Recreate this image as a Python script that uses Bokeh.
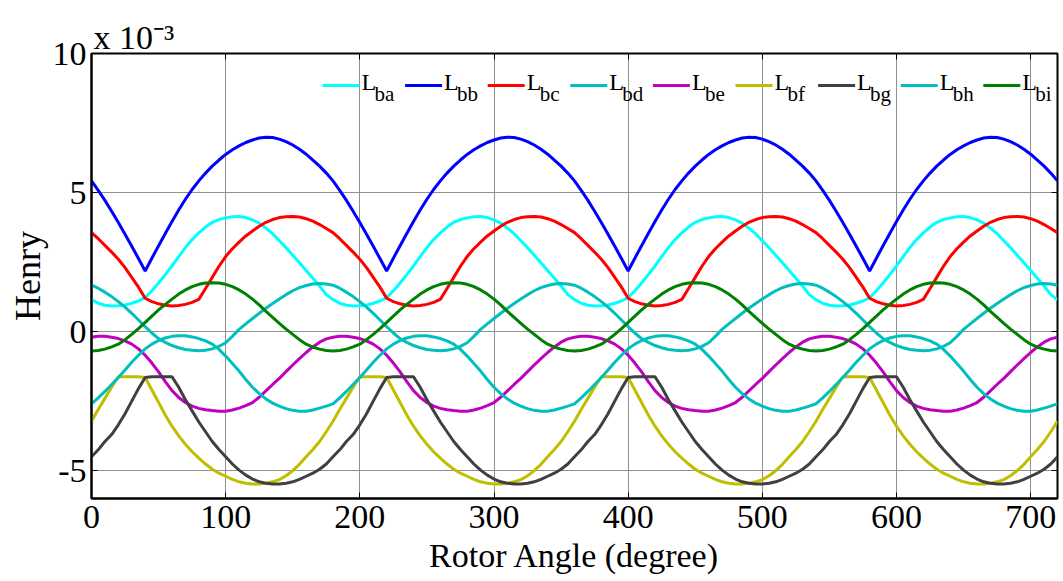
from bokeh.plotting import figure
from bokeh.models import Range1d, FixedTicker, LinearAxis, Label, Arrow, Title
from bokeh.embed import file_html
from bokeh.resources import INLINE

# ---------------- data (values in 1e-3 H) ----------------
# rotor angle in degrees, 0..720 every 5 degrees
angle = list(range(0, 721, 5))

# one 180-degree cycle of each curve at 0,5,...,175 degrees (the chart repeats it 4 times)
L_ba_cycle = [1.15, 1.02, 0.95, 0.92, 0.93, 0.96, 1.02, 1.10, 1.22, 1.47, 1.75, 2.05,
              2.36, 2.70, 3.02, 3.31, 3.55, 3.76, 3.93, 4.03, 4.09, 4.13, 4.14, 4.10,
              4.02, 3.90, 3.72, 3.52, 3.27, 3.02, 2.75, 2.48, 2.20, 1.92, 1.64, 1.33]
L_bb_cycle = [5.42, 5.08, 4.72, 4.33, 3.92, 3.50, 3.07, 2.63, 2.18, 2.64, 3.09, 3.53,
              3.96, 4.37, 4.76, 5.11, 5.42, 5.70, 5.95, 6.17, 6.37, 6.54, 6.68, 6.80,
              6.89, 6.96, 6.99, 6.98, 6.92, 6.83, 6.71, 6.56, 6.38, 6.17, 5.95, 5.70]
L_bc_cycle = [3.56, 3.34, 3.10, 2.86, 2.60, 2.30, 1.95, 1.60, 1.20, 1.08, 1.00, 0.95,
              0.92, 0.94, 0.98, 1.05, 1.16, 1.55, 1.95, 2.35, 2.70, 2.98, 3.22, 3.44,
              3.62, 3.79, 3.93, 4.03, 4.10, 4.13, 4.14, 4.12, 4.06, 3.97, 3.85, 3.71]
L_bd_cycle = [1.67, 1.56, 1.42, 1.26, 1.08, 0.88, 0.66, 0.42, 0.18, -0.05, -0.25, -0.39,
              -0.50, -0.58, -0.64, -0.67, -0.69, -0.67, -0.62, -0.53, -0.40, -0.17, 0.08, 0.28,
              0.47, 0.66, 0.84, 1.01, 1.17, 1.33, 1.47, 1.58, 1.66, 1.71, 1.73, 1.71]
L_be_cycle = [-0.20, -0.17, -0.17, -0.20, -0.25, -0.33, -0.45, -0.62, -0.85, -1.13, -1.45, -1.80,
              -2.12, -2.37, -2.55, -2.68, -2.76, -2.81, -2.84, -2.86, -2.86, -2.82, -2.75, -2.66,
              -2.55, -2.36, -2.13, -1.90, -1.68, -1.44, -1.20, -0.97, -0.75, -0.55, -0.38, -0.26]
L_bf_cycle = [-3.22, -2.80, -2.40, -2.00, -1.62, -1.62, -1.62, -1.62, -1.65, -2.10, -2.55, -3.00,
              -3.40, -3.75, -4.05, -4.32, -4.55, -4.76, -4.95, -5.09, -5.20, -5.31, -5.40, -5.45,
              -5.48, -5.48, -5.45, -5.40, -5.32, -5.18, -5.00, -4.77, -4.50, -4.24, -3.95, -3.60]
L_bg_cycle = [-4.50, -4.25, -3.95, -3.70, -3.35, -2.95, -2.50, -2.05, -1.65, -1.62, -1.62, -1.62,
              -1.62, -2.00, -2.45, -2.85, -3.25, -3.60, -3.95, -4.24, -4.50, -4.76, -4.98, -5.16,
              -5.30, -5.40, -5.45, -5.48, -5.48, -5.45, -5.40, -5.31, -5.20, -5.09, -4.95, -4.76]
L_bh_cycle = [-2.60, -2.38, -2.15, -1.90, -1.65, -1.38, -1.10, -0.85, -0.62, -0.45, -0.32, -0.23,
              -0.17, -0.15, -0.15, -0.19, -0.25, -0.33, -0.45, -0.64, -0.88, -1.15, -1.42, -1.72,
              -2.00, -2.23, -2.42, -2.57, -2.68, -2.77, -2.83, -2.86, -2.86, -2.82, -2.75, -2.68]
L_bi_cycle = [-0.70, -0.68, -0.63, -0.55, -0.45, -0.29, -0.10, 0.11, 0.33, 0.56, 0.78, 0.98,
              1.17, 1.35, 1.50, 1.62, 1.70, 1.75, 1.76, 1.75, 1.70, 1.62, 1.50, 1.35,
              1.17, 0.96, 0.73, 0.51, 0.30, 0.09, -0.10, -0.29, -0.45, -0.56, -0.63, -0.68]

names = ["ba", "bb", "bc", "bd", "be", "bf", "bg", "bh", "bi"]
colors = ["#00FFFF", "#0000FF", "#FF0000", "#00BFBF", "#BF00BF", "#BFBF00", "#404040", "#00BFBF", "#008000"]
cycles = [L_ba_cycle, L_bb_cycle, L_bc_cycle, L_bd_cycle, L_be_cycle,
          L_bf_cycle, L_bg_cycle, L_bh_cycle, L_bi_cycle]

x_ticks = [0, 100, 200, 300, 400, 500, 600, 700]
y_ticks = [-5, 0, 5, 10]
y_tick_labels = {-5: "-5", 0: "0", 5: "5", 10: "10"}

# ---------------- layout ----------------
W, H = 1062, 580
LEFT, RIGHT, TOP, BOTTOM = 91, 5, 53, 82
FRAME_W = W - LEFT - RIGHT
FRAME_H = H - TOP - BOTTOM
FONT = "Liberation Serif"


def sy(page_y):
    """page y (from top) -> screen y measured up from the frame bottom"""
    return FRAME_H - (page_y - TOP)


p = figure(width=W, height=H, x_range=Range1d(0, 720), y_range=Range1d(-6, 10),
           output_backend="svg", toolbar_location=None,
           min_border_left=LEFT, min_border_right=RIGHT,
           min_border_top=TOP, min_border_bottom=BOTTOM)
p.background_fill_color = "white"
p.border_fill_color = "white"
p.outline_line_color = "black"
p.outline_line_width = 2

for ax in (p.xaxis[0], p.yaxis[0]):
    ax.axis_line_width = 2
    ax.major_tick_in = 6
    ax.major_tick_out = 0
    ax.minor_tick_line_color = None
    ax.major_label_text_font = FONT
    ax.major_label_text_font_size = "34px"
    ax.major_label_text_color = "black"
    ax.axis_label_text_font = FONT
    ax.axis_label_text_font_style = "normal"
    ax.axis_label_text_color = "black"

p.xaxis[0].ticker = FixedTicker(ticks=x_ticks)
p.yaxis[0].ticker = FixedTicker(ticks=y_ticks)
p.yaxis[0].major_label_overrides = y_tick_labels
p.xaxis[0].major_label_standoff = 7
p.yaxis[0].major_label_standoff = 5
p.xaxis[0].axis_label = "Rotor Angle (degree)"
p.xaxis[0].axis_label_text_font_size = "34px"
p.xaxis[0].axis_label_standoff = 6
p.yaxis[0].axis_label = "Henry"
p.yaxis[0].axis_label_text_font_size = "36px"
p.yaxis[0].axis_label_standoff = 2

# mirrored tick marks on top and right (MATLAB box style)
top_ax = LinearAxis(ticker=FixedTicker(ticks=x_ticks), major_tick_in=6, major_tick_out=0,
                    minor_tick_line_color=None, axis_line_color=None,
                    major_label_text_font_size="0px", major_label_standoff=0,
                    major_label_overrides={t: "" for t in x_ticks})
right_ax = LinearAxis(ticker=FixedTicker(ticks=y_ticks), major_tick_in=6, major_tick_out=0,
                      minor_tick_line_color=None, axis_line_color=None,
                      major_label_text_font_size="0px", major_label_standoff=0,
                      major_label_overrides={t: "" for t in y_ticks})
p.add_layout(top_ax, "above")
p.add_layout(right_ax, "right")

# exponent of the y axis, above the top-left corner of the axes box
p.add_layout(Title(text="x 10\u207b\u00b3", align="left", offset=2, vertical_align="bottom",
                   standoff=-5, text_font=FONT, text_font_size="34px",
                   text_font_style="normal", text_color="black"), "above")

p.xgrid.ticker = FixedTicker(ticks=x_ticks)
p.ygrid.ticker = FixedTicker(ticks=y_ticks)
for g in (p.xgrid[0], p.ygrid[0]):
    g.grid_line_color = "#909090"
    g.grid_line_width = 1

# ---------------- curves ----------------
for cyc, col in zip(cycles, colors):
    values = cyc * 4 + cyc[:1]
    p.line(angle, values, line_color=col, line_width=3)

# ---------------- legend (L with subscripts) ----------------
LEG_X0 = 231      # left of first sample line, from frame left
LEG_DX = 82.6     # spacing between entries
for i, (nm, col) in enumerate(zip(names, colors)):
    x0 = LEG_X0 + i * LEG_DX
    p.add_layout(Arrow(x_start=x0, y_start=sy(85), x_end=x0 + 37, y_end=sy(85),
                       start_units="screen", end_units="screen", end=None,
                       line_color=col, line_width=3))
    p.add_layout(Label(x=x0 + 39, y=sy(94), x_units="screen", y_units="screen",
                       text="L", text_font=FONT, text_font_size="24px",
                       text_baseline="bottom", text_align="left", text_color="black"))
    p.add_layout(Label(x=x0 + 52, y=sy(105), x_units="screen", y_units="screen",
                       text=nm, text_font=FONT, text_font_size="21px",
                       text_baseline="bottom", text_align="left", text_color="black"))

open("out.html", "w").write(file_html(p, INLINE))
